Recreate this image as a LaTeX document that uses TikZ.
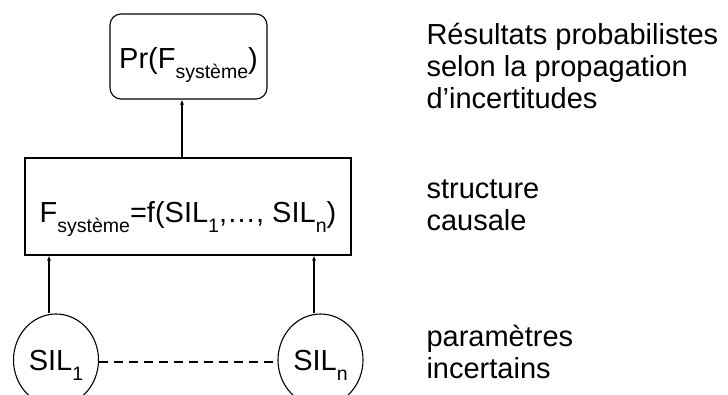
\documentclass[tikz,border=0pt]{standalone}
\usepackage{fontspec}
\setmainfont{Liberation Sans}
\usepackage{tikz}
\usetikzlibrary{arrows.meta,positioning,calc,shapes.geometric}
\newcommand{\lowsub}[1]{\raisebox{-10pt}{\fontsize{19.5}{19.5}\selectfont #1}}

\begin{document}
\begin{tikzpicture}[>={Latex[length=5pt,width=4pt]},line width=1.1pt,
  every node/.style={font=\fontsize{29}{32}\selectfont,inner sep=0pt},
  resbox/.style={draw,rounded corners=11pt,minimum width=157pt,minimum height=85pt,text height=23pt,text depth=0pt},
  funbox/.style={draw,minimum width=326pt,minimum height=97pt,text height=31pt,text depth=0pt},
  param/.style={draw,ellipse,minimum width=85pt,minimum height=92pt,text height=20pt,text depth=0pt},
  note/.style={align=left,anchor=base west}]
  \useasboundingbox (0,0) rectangle (728pt,-394pt);
  \node[resbox] (pr) at (188.5pt,-56.5pt) {Pr(F\lowsub{système})};
  \node[funbox] (fsys) at (188pt,-206.5pt) {F\lowsub{système}=f(SIL\lowsub{1},…, SIL\lowsub{n})};
  \node[param] (sil1) at (56pt,-360pt) {SIL\lowsub{1}};
  \node[param] (siln) at (320.5pt,-360pt) {SIL\lowsub{n}};
  % fleches vers le haut
  \draw[->] ([xshift=-6pt]fsys.north) -- ([xshift=-6pt]fsys.north |- pr.south);
  \draw[->] ([xshift=-7pt]sil1.north) -- ([xshift=-7pt]sil1.north |- fsys.south);
  \draw[->] ([xshift=-6.5pt]siln.north) -- ([xshift=-6.5pt]siln.north |- fsys.south);
  \draw[dash pattern=on 9pt off 6pt] ([yshift=-2pt]sil1.east) -- ([yshift=-2pt]siln.west);
  % textes a droite (ancre sur la derniere ligne)
  \node[note] (n1) at (426pt,-108pt) {Résultats probabilistes\\selon la propagation\\d’incertitudes};
  \node[note] (n2) at (426pt,-230pt) {structure\\causale};
  \node[note] (n3) at (426pt,-378pt) {paramètres\\incertains};
\end{tikzpicture}
\end{document}
